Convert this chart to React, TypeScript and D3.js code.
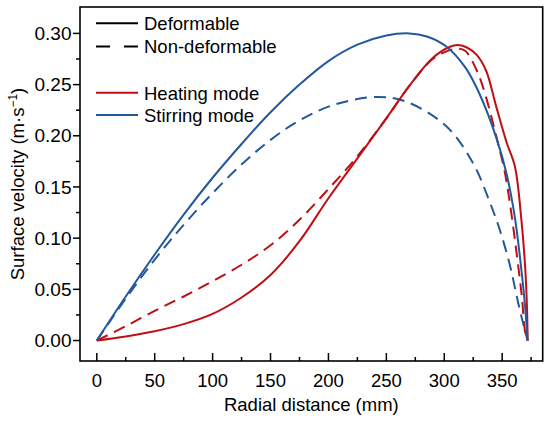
import * as d3 from "d3";
import { useEffect, useRef } from "react";

// radial distance (mm) / surface velocity (m/s)
const stirDefR = [0, 25, 50, 75, 100, 125, 150, 175, 200, 225, 250, 270, 285, 302, 318, 330, 345, 354, 361, 366, 369.6, 372];
const stirDefV = [0, 0.043, 0.084, 0.123, 0.159, 0.192, 0.223, 0.25, 0.273, 0.289, 0.298, 0.3, 0.297, 0.287, 0.267, 0.242, 0.198, 0.162, 0.12, 0.075, 0.036, 0];

const stirNonR = [0, 25, 50, 75, 100, 125, 150, 175, 204, 242, 268, 302, 325, 339, 348, 357, 364, 369.6, 372];
const stirNonV = [0, 0.041, 0.079, 0.113, 0.144, 0.172, 0.196, 0.215, 0.23, 0.238, 0.233, 0.209, 0.173, 0.136, 0.108, 0.072, 0.036, 0.01, 0];

const heatDefR = [0, 25, 50, 75, 100, 125, 150, 175, 200, 225, 250, 270, 290, 305, 312, 320, 328, 336, 345, 354, 361, 366.6, 370, 371.5, 372];
const heatDefV = [0, 0.004, 0.009, 0.016, 0.026, 0.042, 0.064, 0.097, 0.139, 0.178, 0.217, 0.249, 0.276, 0.287, 0.2886, 0.286, 0.279, 0.264, 0.228, 0.193, 0.17, 0.118, 0.069, 0.03, 0];

const heatNonR = [0, 25, 50, 75, 100, 125, 150, 175, 200, 225, 250, 270, 290, 303, 311, 318, 328, 336, 345, 352, 356.7, 362.5, 367, 370, 372];
const heatNonV = [0, 0.014, 0.029, 0.043, 0.058, 0.074, 0.093, 0.118, 0.148, 0.18, 0.217, 0.249, 0.275, 0.283, 0.285, 0.283, 0.264, 0.238, 0.199, 0.166, 0.134, 0.085, 0.043, 0.007, 0];

const xTicks = [0, 50, 100, 150, 200, 250, 300, 350];
const yTicks = [0, 0.05, 0.1, 0.15, 0.2, 0.25, 0.3];

const RED = "#c00f14";
const BLUE = "#23589b";
const FONT = "'Liberation Sans', Arial, sans-serif";

const series = [
  { r: heatNonR, v: heatNonV, color: RED, dashed: true },
  { r: stirNonR, v: stirNonV, color: BLUE, dashed: true },
  { r: heatDefR, v: heatDefV, color: RED, dashed: false },
  { r: stirDefR, v: stirDefV, color: BLUE, dashed: false },
];

const App = () => {
  const ref = useRef<SVGSVGElement>(null);

  useEffect(() => {
    const svg = d3.select(ref.current);
    svg.selectAll("*").remove();

    const left = 80, right = 542.7, top = 7, bottom = 361;
    const x = d3.scaleLinear().domain([-14.5, 385]).range([left, right]);
    const y = d3.scaleLinear().domain([-0.02, 0.3258]).range([bottom, top]);

    // curves
    const line = d3
      .line<[number, number]>()
      .x((d) => x(d[0]))
      .y((d) => y(d[1]))
      .curve(d3.curveCatmullRom.alpha(0.5));

    series.forEach((s) => {
      const pts = s.r.map((r, i) => [r, s.v[i]] as [number, number]);
      svg
        .append("path")
        .attr("d", line(pts))
        .attr("fill", "none")
        .attr("stroke", s.color)
        .attr("stroke-width", 2)
        .attr("stroke-dasharray", s.dashed ? "12,7" : null);
    });

    // frame
    svg
      .append("rect")
      .attr("x", left)
      .attr("y", top)
      .attr("width", right - left)
      .attr("height", bottom - top)
      .attr("fill", "none")
      .attr("stroke", "#000")
      .attr("stroke-width", 1.6);

    // x ticks (inward)
    const xMinor = d3.range(25, 376, 50);
    xTicks.forEach((t) => {
      svg.append("line").attr("x1", x(t)).attr("x2", x(t)).attr("y1", bottom).attr("y2", bottom - 8)
        .attr("stroke", "#000").attr("stroke-width", 1.5);
      svg.append("text").attr("x", x(t)).attr("y", 387).attr("text-anchor", "middle")
        .attr("font-family", FONT).attr("font-size", 18.5).text(t);
    });
    xMinor.forEach((t) => {
      svg.append("line").attr("x1", x(t)).attr("x2", x(t)).attr("y1", bottom).attr("y2", bottom - 4)
        .attr("stroke", "#000").attr("stroke-width", 1.5);
    });

    // y ticks (outward)
    const yMinor = [0.025, 0.075, 0.125, 0.175, 0.225, 0.275];
    yTicks.forEach((t) => {
      svg.append("line").attr("x1", left).attr("x2", left - 7).attr("y1", y(t)).attr("y2", y(t))
        .attr("stroke", "#000").attr("stroke-width", 1.5);
      svg.append("text").attr("x", 71.5).attr("y", y(t) + 6.7).attr("text-anchor", "end")
        .attr("font-family", FONT).attr("font-size", 19).text(t.toFixed(2));
    });
    yMinor.forEach((t) => {
      svg.append("line").attr("x1", left).attr("x2", left - 4).attr("y1", y(t)).attr("y2", y(t))
        .attr("stroke", "#000").attr("stroke-width", 1.5);
    });

    // axis titles
    svg.append("text").attr("x", (left + right) / 2).attr("y", 411).attr("text-anchor", "middle")
      .attr("font-family", FONT).attr("font-size", 18.5).text("Radial distance (mm)");

    const yt = svg.append("text")
      .attr("transform", `translate(24,${(top + bottom) / 2}) rotate(-90)`)
      .attr("text-anchor", "middle")
      .attr("font-family", FONT)
      .attr("font-size", 18.5);
    yt.append("tspan").text("Surface velocity (m·s");
    yt.append("tspan").attr("dy", -7).attr("font-size", 12).text("−1");
    yt.append("tspan").attr("dy", 7).text(")");

    // legend
    const legend = [
      { label: "Deformable", color: "#000", dashed: false, yy: 23.3 },
      { label: "Non-deformable", color: "#000", dashed: true, yy: 46.5 },
      { label: "Heating mode", color: RED, dashed: false, yy: 92.7 },
      { label: "Stirring mode", color: BLUE, dashed: false, yy: 115 },
    ];
    legend.forEach((l) => {
      svg.append("line").attr("x1", 96).attr("x2", 138).attr("y1", l.yy).attr("y2", l.yy)
        .attr("stroke", l.color).attr("stroke-width", 2)
        .attr("stroke-dasharray", l.dashed ? "14,14" : null);
      svg.append("text").attr("x", 144).attr("y", l.yy + 6.8)
        .attr("font-family", FONT).attr("font-size", 18.5).text(l.label);
    });
  }, []);

  return (
    <svg
      ref={ref}
      width={550}
      height={424}
      style={{ position: "absolute", left: 0, top: 0, background: "#fff" }}
    />
  );
};

export default App;
